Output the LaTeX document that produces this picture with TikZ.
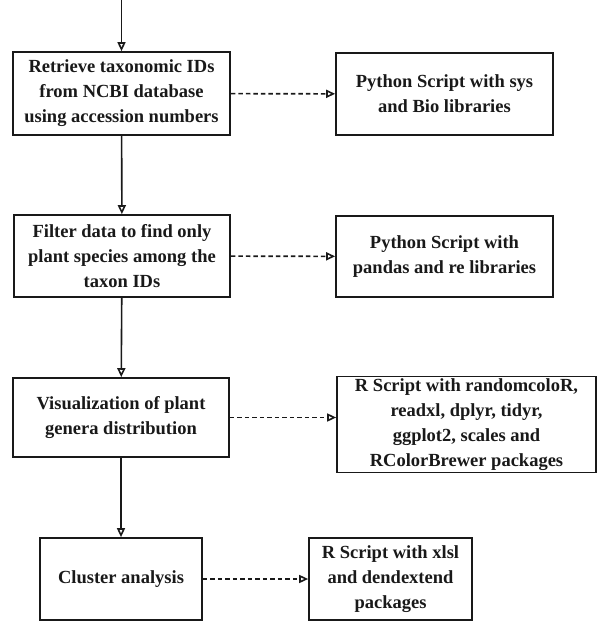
\documentclass[tikz,border=0pt]{standalone}
\usepackage{fontspec}
\setmainfont{Liberation Serif}
\usetikzlibrary{arrows.meta}

\begin{document}
\begin{tikzpicture}[x=1pt,y=-1pt,
            stepbox/.style={draw=black!90, line width=1.7pt, fill=white,
                align=center, text=black!90, inner sep=2pt,
                font=\bfseries\fontsize{18.5}{25}\selectfont},
            flow/.style={-{Triangle[open,length=9pt,width=8pt]},
                line width=1.6pt, black!90},
            uses/.style={flow, dash pattern=on 4.5pt off 3pt}]
            \useasboundingbox (0,0) rectangle (598,621);

            % pipeline steps
            \node[stepbox, minimum width=217pt, minimum height=83pt] (retr) at (121.5,93.5)
                {Retrieve taxonomic IDs\\from NCBI database\\using accession numbers};
            \node[stepbox, minimum width=216pt, minimum height=82pt] (filt) at (122,256)
                {Filter data to find only\\plant species among the\\taxon IDs};
            \node[stepbox, minimum width=216pt, minimum height=79pt] (vis) at (121,417.5)
                {Visualization of plant\\genera distribution};
            \node[stepbox, minimum width=162pt, minimum height=82pt] (clus) at (121,579)
                {Cluster analysis};

            % tools used
            \node[stepbox, minimum width=217pt, minimum height=82pt] (py1) at (444.5,94)
                {Python Script with sys\\and Bio libraries};
            \node[stepbox, minimum width=217pt, minimum height=81pt] (py2) at (444.5,256.5)
                {Python Script with\\pandas and re libraries};
            \node[stepbox, minimum width=259pt, minimum height=95pt] (rs1) at (466.5,424.5)
                {R Script with randomcoloR,\\readxl, dplyr, tidyr,\\ggplot2, scales and\\RColorBrewer packages};
            \node[stepbox, minimum width=163pt, minimum height=82pt] (rs2) at (390.5,579)
                {R Script with xlsl\\and dendextend\\packages};

            \coordinate (top) at (121.5,0);
            \draw[flow] (top) -- (retr);
            \draw[flow] (retr) -- (filt);
            \draw[flow] (filt) -- (vis);
            \draw[flow] (vis) -- (clus);

            \draw[uses] (retr) -- (py1);
            \draw[uses] (filt) -- (py2);
            \draw[uses] (vis.east) -- (vis.east -| rs1.west);
            \draw[uses] (clus) -- (rs2);
        \end{tikzpicture}
\end{document}
